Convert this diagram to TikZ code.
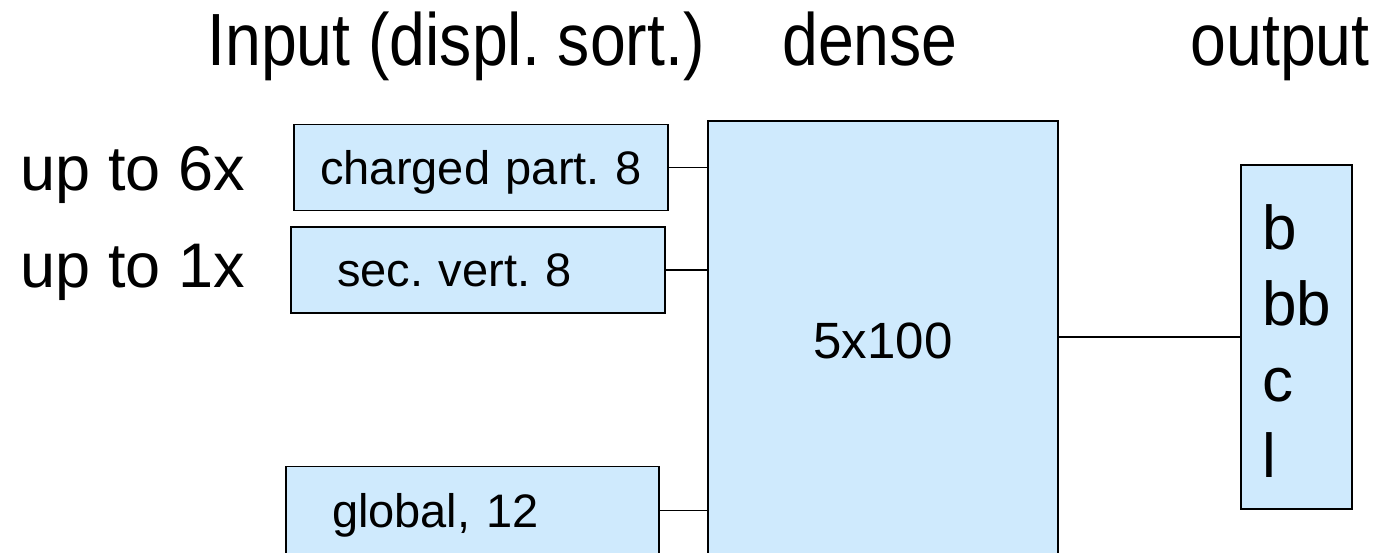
\documentclass[tikz,border=0pt]{standalone}
\usepackage{fontspec}
\setmainfont{Liberation Sans}
\newfontfamily\titlefont[FakeStretch=0.87]{Liberation Sans}
\usetikzlibrary{positioning}
\definecolor{boxblue}{RGB}{207,234,253}
\newcommand{\headsize}{\titlefont\fontsize{74}{88}\selectfont}
\newcommand{\sidesize}{\fontsize{63}{76}\selectfont}
\newcommand{\boxsize}{\fontsize{47}{56}\selectfont}
\frenchspacing

\begin{document}
\begin{tikzpicture}[x=1pt, y=-1pt, line width=1.6pt,
    box/.style={draw=black, fill=boxblue},
    inbox/.style={box, font=\boxsize, minimum height=86pt, align=left, text depth=0pt, text height=33.6pt},
    head/.style={anchor=base, font=\headsize},
    side/.style={anchor=base east, font=\sidesize}]
\clip (0,0) rectangle (1379,552);
% titles
\node[head] (tin) at (456,65) {Input (displ. sort.)};
\node[head] (tdense) at (870,65) {dense};
\node[head] (tout) at (1280,65) {output};
% multiplicities
\node[side] (lab6) at (249,190) {up to 6x};
\node[side] (lab1) at (249,287) {up to 1x};
% input boxes
\node[inbox, inner xsep=12pt, text width=350pt, align=center] (charged) at (481,167.5) {charged part. 8};
\node[inbox, inner xsep=46pt, text width=282pt] (secvtx) at (478,270) {sec. vert. 8};
\node[inbox, inner xsep=46pt, text width=281pt, minimum height=88pt] (glob) at (472.5,510.5) {global, 12};
% dense layers
\node[box, minimum width=350pt, minimum height=439pt, text depth=0pt, text height=36.5pt,
      font=\fontsize{51}{61}\selectfont] (dense) at (883,340.5) {5x100};
% output classes
\node[box, inner xsep=21pt, text width=69pt, minimum height=344pt, align=left,
      font=\fontsize{62}{76}\selectfont] (out) at (1296.5,337) {\rule{0pt}{52pt}b\\bb\\c\\l};
\foreach \n in {charged,secvtx,glob}
    \draw (\n.east) -- (\n.east -| dense.west);
\draw (out.west -| dense.east) -- (out.west);
\end{tikzpicture}
\end{document}
